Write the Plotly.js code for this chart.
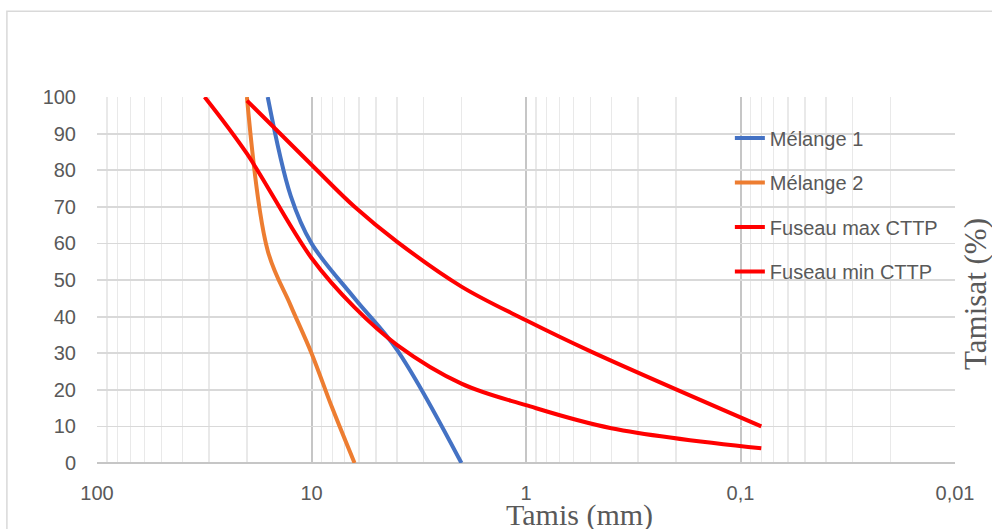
<!DOCTYPE html>
<html>
<head>
<meta charset="utf-8">
<script src="https://cdn.plot.ly/plotly-3.0.1.min.js"></script>
<style>html,body{margin:0;padding:0;background:#fff;}#chart{width:992px;height:529px;}</style>
</head>
<body>
<div id="chart"></div>
<script>
// ---- Data ----
const seriesNames = ["Mélange 1", "Mélange 2", "Fuseau max CTTP", "Fuseau min CTTP"];

const melange1_x = [16, 12.5, 10, 6.3, 4, 2];
const melange1_y = [100, 73, 60, 45, 31, 0];

const melange2_x = [20, 16, 12.5, 10, 8, 6.3];
const melange2_y = [100, 58, 43, 30, 15, 0];

const fuseauMax_x = [20, 10, 6.3, 4, 2, 1, 0.5, 0.08];
const fuseauMax_y = [99, 81.5, 70, 60.5, 48.2, 39, 30.5, 10];

const fuseauMin_x = [31.5, 20, 10, 6.3, 4, 2, 1, 0.4, 0.08];
const fuseauMin_y = [100, 84.5, 56, 42.5, 32.3, 21.7, 15.8, 9.5, 4];

const xTickVals = [100, 10, 1, 0.1, 0.01];
const xTickText = ["100", "10", "1", "0,1", "0,01"];
const yTickVals = [0, 10, 20, 30, 40, 50, 60, 70, 80, 90, 100];

const xTitle = "Tamis (mm)";
const yTitle = "Tamisat (%)";

// ---- Styling ----
const colors = ["#4472C4", "#ED7D31", "#FF0000", "#FF0000"];
const xs = [melange1_x, melange2_x, fuseauMax_x, fuseauMin_x];
const ys = [melange1_y, melange2_y, fuseauMax_y, fuseauMin_y];

const traces = seriesNames.map((name, i) => ({
  type: "scatter",
  mode: "lines",
  name: name,
  legendgroup: "g" + i,
  x: xs[i],
  y: ys[i],
  line: {color: colors[i], width: 4, shape: "spline", smoothing: 1},
  hoverinfo: "x+y+name"
}));

// minor grid values 2..9 per decade
const minorVals = [];
for (let d = -2; d < 2; d++) {
  for (let k = 2; k <= 9; k++) minorVals.push(k * Math.pow(10, d));
}

const tickFont = {family: "Liberation Sans, Arial, sans-serif", size: 20, color: "#595959"};

const layout = {
  width: 992,
  height: 529,
  paper_bgcolor: "#ffffff",
  plot_bgcolor: "#ffffff",
  margin: {l: 97, r: 37, t: 97, b: 66, pad: 0},
  showlegend: true,
  legend: {
    x: 0.7376, y: 0.9414, xanchor: "left", yanchor: "top",
    bgcolor: "rgba(0,0,0,0)",
    borderwidth: 0,
    font: {family: "Liberation Sans, Arial, sans-serif", size: 20, color: "#595959"},
    tracegroupgap: 15.5,
    traceorder: "grouped"
  },
  xaxis: {
    type: "log",
    range: [2, -2],
    tickmode: "array",
    tickvals: xTickVals,
    ticktext: xTickText,
    tickfont: tickFont,
    ticks: "",
    ticklabelstandoff: 16,
    showgrid: true,
    gridcolor: "#c6c6c6",
    gridwidth: 2,
    minor: {tickmode: "array", tickvals: minorVals, showgrid: true, gridcolor: "#e9e9e9", gridwidth: 1.4, ticks: ""},
    zeroline: false,
    showline: false,
    fixedrange: true
  },
  yaxis: {
    range: [0, 100],
    tickmode: "array",
    tickvals: yTickVals,
    tickfont: tickFont,
    ticks: "",
    ticklabelstandoff: 20,
    showgrid: true,
    gridcolor: "#d9d9d9",
    gridwidth: 1.8,
    zeroline: true,
    zerolinecolor: "#c6c6c6",
    zerolinewidth: 2.5,
    showline: false,
    fixedrange: true
  },
  annotations: [
    {
      text: xTitle, xref: "paper", yref: "paper",
      x: 0.5627, y: -0.143, xanchor: "center", yanchor: "middle",
      showarrow: false,
      font: {family: "Liberation Serif, Times New Roman, serif", size: 30, color: "#595959"}
    },
    {
      text: yTitle, xref: "paper", yref: "paper",
      x: 1.0245, y: 0.462, xanchor: "center", yanchor: "middle",
      textangle: -90, showarrow: false,
      font: {family: "Liberation Serif, Times New Roman, serif", size: 31, color: "#595959"}
    }
  ],
  shapes: [
    {
      type: "rect", xref: "paper", yref: "paper",
      x0: -0.105, x1: 1.06, y0: -0.22, y1: 1.234,
      line: {color: "#d9d9d9", width: 1.5}, fillcolor: "rgba(0,0,0,0)", layer: "below"
    }
  ]
};

Plotly.newPlot("chart", traces, layout, {displayModeBar: false, staticPlot: true});
</script>
</body>
</html>
